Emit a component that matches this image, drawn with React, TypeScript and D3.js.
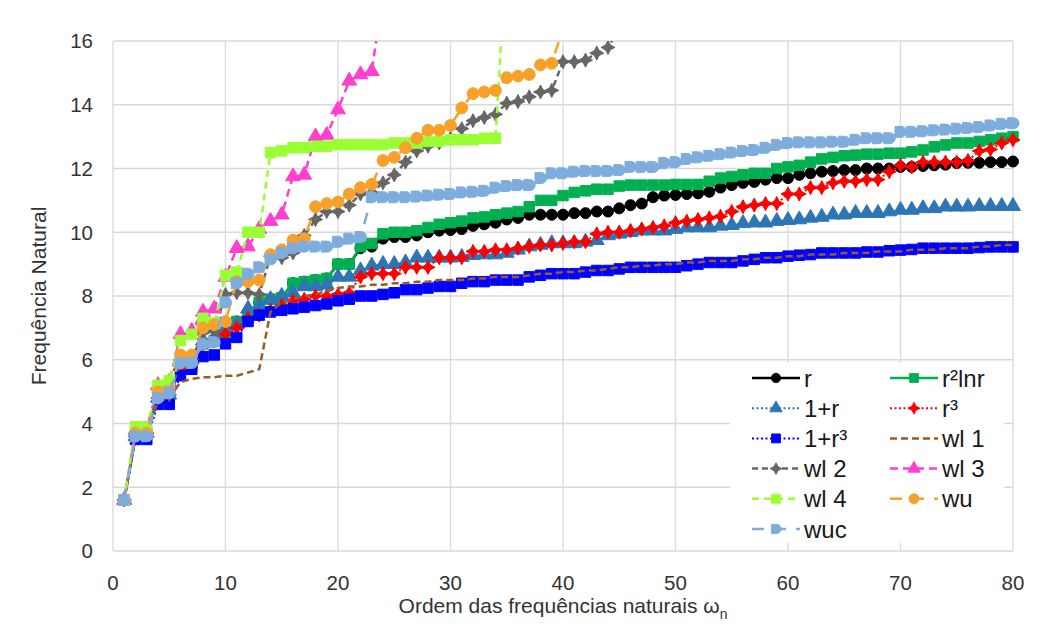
import React from "react";
import * as d3 from "d3";

// x = ordem da frequência natural (1..80)
const ordem = [
  1, 2, 3, 4, 5, 6, 7, 8, 9, 10, 11, 12, 13, 14, 15, 16, 17, 18, 19, 20,
  21, 22, 23, 24, 25, 26, 27, 28, 29, 30, 31, 32, 33, 34, 35, 36, 37, 38, 39, 40,
  41, 42, 43, 44, 45, 46, 47, 48, 49, 50, 51, 52, 53, 54, 55, 56, 57, 58, 59, 60,
  61, 62, 63, 64, 65, 66, 67, 68, 69, 70, 71, 72, 73, 74, 75, 76, 77, 78, 79, 80,
];

const rVals = [
  1.6, 3.6, 3.7, 4.8, 4.9, 5.7, 5.8, 6.5, 6.6, 6.7, 7.2, 7.3, 7.8, 7.9, 7.95, 8.4, 8.45, 8.5, 8.55, 9.0,
  9.0, 9.5, 9.55, 9.8, 9.85, 9.85, 9.9, 10.0, 10.05, 10.07, 10.1, 10.2, 10.25, 10.3, 10.4, 10.45, 10.55, 10.55, 10.55, 10.55,
  10.6, 10.6, 10.65, 10.65, 10.75, 10.85, 10.9, 11.1, 11.15, 11.17, 11.2, 11.22, 11.27, 11.4, 11.48, 11.55, 11.58, 11.65, 11.7, 11.7,
  11.8, 11.85, 11.9, 11.92, 11.95, 11.95, 12.0, 12.0, 12.0, 12.05, 12.05, 12.08, 12.1, 12.12, 12.17, 12.18, 12.18, 12.2, 12.2, 12.22,
];
const r2lnrVals = [
  1.6, 3.6, 3.7, 4.8, 4.9, 5.7, 5.8, 6.5, 6.6, 6.7, 7.2, 7.3, 7.8, 7.9, 7.95, 8.4, 8.45, 8.5, 8.55, 9.0,
  9.0, 9.55, 9.65, 9.95, 10.0, 10.0, 10.05, 10.15, 10.25, 10.3, 10.35, 10.45, 10.48, 10.55, 10.6, 10.65, 10.8, 11.0, 11.0, 11.15,
  11.25, 11.3, 11.35, 11.35, 11.45, 11.48, 11.48, 11.48, 11.48, 11.5, 11.5, 11.5, 11.6, 11.7, 11.75, 11.8, 11.85, 11.85, 12.0, 12.05,
  12.1, 12.2, 12.3, 12.35, 12.4, 12.42, 12.45, 12.45, 12.48, 12.48, 12.52, 12.58, 12.68, 12.74, 12.8, 12.8, 12.85, 12.9, 12.95, 13.0,
];
const onePlusRVals = [
  1.6, 3.6, 3.7, 4.8, 4.9, 5.8, 6.0, 6.6, 6.7, 7.0, 7.1, 7.6, 7.7, 7.9, 8.0, 8.1, 8.3, 8.3, 8.35, 8.6,
  8.6, 8.8, 8.95, 9.0, 9.0, 9.05, 9.2, 9.2, 9.2, 9.2, 9.22, 9.28, 9.3, 9.3, 9.35, 9.45, 9.55, 9.6, 9.65, 9.65,
  9.65, 9.7, 9.75, 9.9, 9.95, 10.0, 10.05, 10.05, 10.05, 10.1, 10.15, 10.15, 10.15, 10.2, 10.22, 10.28, 10.3, 10.3, 10.35, 10.38,
  10.4, 10.45, 10.48, 10.55, 10.55, 10.6, 10.6, 10.6, 10.65, 10.7, 10.7, 10.75, 10.75, 10.8, 10.8, 10.8, 10.82, 10.82, 10.82, 10.82,
];
const r3Vals = [
  1.6, 3.6, 3.7, 4.8, 4.9, 5.7, 5.9, 6.5, 6.6, 6.8, 7.0, 7.3, 7.4, 7.55, 7.7, 7.85, 7.9, 8.0, 8.0, 8.05,
  8.1, 8.6, 8.7, 8.7, 8.7, 8.9, 8.9, 8.9, 9.2, 9.2, 9.2, 9.4, 9.4, 9.45, 9.45, 9.5, 9.55, 9.6, 9.6, 9.65,
  9.7, 9.7, 9.95, 10.0, 10.0, 10.05, 10.1, 10.15, 10.2, 10.3, 10.35, 10.4, 10.45, 10.5, 10.65, 10.8, 10.85, 10.9, 10.9, 11.2,
  11.2, 11.4, 11.4, 11.55, 11.6, 11.6, 11.65, 11.65, 11.9, 12.1, 12.05, 12.2, 12.2, 12.2, 12.2, 12.25, 12.55, 12.6, 12.8, 12.9,
];
const onePlusR3Vals = [
  1.6, 3.5, 3.5, 4.6, 4.6, 5.5, 5.7, 6.1, 6.15, 6.5, 6.7, 7.2, 7.4, 7.5, 7.55, 7.6, 7.65, 7.7, 7.75, 7.85,
  7.9, 8.0, 8.0, 8.05, 8.1, 8.2, 8.2, 8.25, 8.3, 8.3, 8.4, 8.45, 8.45, 8.5, 8.5, 8.5, 8.6, 8.65, 8.7, 8.7,
  8.7, 8.75, 8.8, 8.8, 8.85, 8.9, 8.9, 8.9, 8.9, 8.9, 8.95, 9.0, 9.05, 9.05, 9.05, 9.1, 9.15, 9.2, 9.2, 9.25,
  9.28, 9.3, 9.35, 9.35, 9.35, 9.35, 9.38, 9.38, 9.42, 9.44, 9.46, 9.5, 9.5, 9.5, 9.5, 9.5, 9.52, 9.54, 9.54, 9.54,
];
const wl1Vals = [
  1.6, 3.6, 3.7, 4.7, 4.8, 5.3, 5.4, 5.45, 5.45, 5.5, 5.5, 5.6, 5.7, 7.5, 7.8, 7.9, 8.0, 8.05, 8.15, 8.25,
  8.3, 8.3, 8.35, 8.35, 8.4, 8.4, 8.45, 8.45, 8.5, 8.5, 8.5, 8.55, 8.55, 8.6, 8.6, 8.6, 8.65, 8.7, 8.7, 8.75,
  8.75, 8.8, 8.8, 8.85, 8.9, 8.9, 8.95, 8.95, 9.0, 9.0, 9.05, 9.05, 9.1, 9.1, 9.1, 9.15, 9.15, 9.2, 9.2, 9.25,
  9.25, 9.3, 9.3, 9.3, 9.35, 9.35, 9.35, 9.4, 9.4, 9.4, 9.45, 9.45, 9.45, 9.5, 9.5, 9.5, 9.55, 9.55, 9.6, 9.6,
];
const wl2Vals = [
  1.6, 3.6, 3.7, 4.8, 4.9, 5.9, 6.0, 6.85, 6.9, 8.05, 8.1, 8.1, 8.05, 9.25, 9.2, 9.35, 9.9, 10.4, 10.65, 10.65,
  10.85, 11.2, 11.25, 11.55, 11.8, 12.2, 12.55, 12.7, 12.8, 12.95, 13.25, 13.5, 13.6, 13.7, 14.05, 14.1, 14.25, 14.4, 14.45, 15.35,
  15.35, 15.4, 15.62, 15.8, 16.4,
];
const wl3Vals = [
  1.6, 3.8, 3.8, 5.2, 5.3, 6.8, 6.9, 7.5, 7.6, 8.6, 9.5, 9.55, 10.1, 10.35, 10.55, 11.75, 11.8, 13.0, 13.05, 13.85,
  14.75, 14.95, 15.05, 17.5,
];
const wl4Vals = [
  1.6, 3.9, 3.9, 5.2, 5.35, 6.6, 6.8, 7.3, 7.15, 8.65, 8.75, 10.0, 10.0, 12.5, 12.55, 12.65, 12.65, 12.7, 12.7, 12.75,
  12.75, 12.75, 12.75, 12.75, 12.8, 12.8, 12.8, 12.85, 12.85, 12.9, 12.9, 12.9, 12.95, 12.95, 19.0,
];
const wuVals = [
  1.6, 3.7, 3.7, 5.0, 5.0, 6.15, 6.15, 7.0, 7.1, 7.2, 8.45, 8.45, 8.5, 9.3, 9.45, 9.75, 9.8, 10.8, 10.9, 10.95,
  11.2, 11.4, 11.5, 12.25, 12.35, 12.65, 12.95, 13.2, 13.2, 13.35, 13.9, 14.35, 14.4, 14.45, 14.85, 14.9, 14.95, 15.25, 15.3, 16.4,
];
const wucVals = [
  1.6, 3.6, 3.6, 4.8, 4.95, 5.9, 5.9, 6.5, 6.55, 7.8, 8.4, 8.7, 8.9, 9.15, 9.35, 9.5, 9.55, 9.55, 9.55, 9.7,
  9.8, 9.85, 11.1, 11.1, 11.1, 11.1, 11.12, 11.15, 11.18, 11.2, 11.25, 11.27, 11.3, 11.4, 11.45, 11.48, 11.48, 11.7, 11.85, 11.85,
  11.9, 11.92, 11.92, 11.92, 11.95, 12.05, 12.05, 12.05, 12.17, 12.2, 12.3, 12.35, 12.4, 12.45, 12.5, 12.55, 12.58, 12.65, 12.74, 12.8,
  12.82, 12.82, 12.82, 12.84, 12.84, 12.9, 12.95, 12.95, 12.95, 13.15, 13.15, 13.17, 13.2, 13.22, 13.25, 13.27, 13.3, 13.35, 13.4, 13.42,
];

const yTicks = [0, 2, 4, 6, 8, 10, 12, 14, 16];
const xTicks = [0, 10, 20, 30, 40, 50, 60, 70, 80];

type Serie = {
  name: string;
  values: number[];
  color: string;
  dash: string | null;
  width: number;
  marker: string;
};

const series: Serie[] = [
  { name: "r", values: rVals, color: "#000000", dash: null, width: 2.5, marker: "circle" },
  { name: "r²lnr", values: r2lnrVals, color: "#00B050", dash: null, width: 2.5, marker: "square" },
  { name: "1+r", values: onePlusRVals, color: "#2E75B6", dash: "2,2.5", width: 2, marker: "triangle" },
  { name: "r³", values: r3Vals, color: "#FF0000", dash: "2,2.5", width: 2, marker: "star" },
  { name: "1+r³", values: onePlusR3Vals, color: "#0000FF", dash: "2,2.5", width: 2, marker: "square" },
  { name: "wl 1", values: wl1Vals, color: "#9C5B26", dash: "7,4", width: 2.5, marker: "none" },
  { name: "wl 2", values: wl2Vals, color: "#666666", dash: "6,4", width: 2.5, marker: "star" },
  { name: "wl 3", values: wl3Vals, color: "#FF3FCF", dash: "8,5", width: 2.5, marker: "triangle" },
  { name: "wl 4", values: wl4Vals, color: "#99FF33", dash: "7,5", width: 2.5, marker: "square" },
  { name: "wu", values: wuVals, color: "#F7A12B", dash: "12,10", width: 2.5, marker: "bigcircle" },
  { name: "wuc", values: wucVals, color: "#7EADDD", dash: "12,10", width: 2.5, marker: "dshape" },
];

function markerPath(type: string): string {
  switch (type) {
    case "circle":
      return d3.symbol(d3.symbolCircle, 95)()!;
    case "bigcircle":
      return d3.symbol(d3.symbolCircle, 110)()!;
    case "square":
      return d3.symbol(d3.symbolSquare, 110)()!;
    case "triangle":
      return d3.symbol(d3.symbolTriangle, 95)()!;
    case "star":
      return "M0,-7L2.4,-2.4L7,0L2.4,2.4L0,7L-2.4,2.4L-7,0L-2.4,-2.4Z";
    case "dshape":
      return "M-5.5,-5.5H0.5A5.5,5.5 0 0 1 0.5,5.5H-5.5Z";
    default:
      return "";
  }
}

export default function App() {
  const ref = React.useRef<SVGSVGElement>(null);

  React.useEffect(() => {
    const width = 1043;
    const height = 633;
    const marginTop = 41;
    const marginRight = 30;
    const marginBottom = 82;
    const marginLeft = 113;
    const font = "'Liberation Sans', Arial, sans-serif";

    const x = d3.scaleLinear().domain([0, 80]).range([marginLeft, width - marginRight]);
    const y = d3.scaleLinear().domain([0, 16]).range([height - marginBottom, marginTop]);

    const svg = d3.select(ref.current!)
      .attr("width", width)
      .attr("height", height)
      .attr("viewBox", [0, 0, width, height])
      .style("font-family", font);
    svg.selectAll("*").remove();

    svg.append("rect").attr("width", width).attr("height", height).attr("fill", "#ffffff");

    // grid
    const grid = svg.append("g").attr("stroke", "#D9D9D9").attr("stroke-width", 1.3);
    grid.selectAll("line.h").data(yTicks).join("line")
      .attr("x1", x(0)).attr("x2", x(80))
      .attr("y1", (d) => y(d)).attr("y2", (d) => y(d));
    grid.selectAll("line.v").data(xTicks).join("line")
      .attr("y1", y(0)).attr("y2", y(16))
      .attr("x1", (d) => x(d)).attr("x2", (d) => x(d));

    // tick labels
    svg.append("g").selectAll("text").data(yTicks).join("text")
      .attr("x", x(0) - 20).attr("y", (d) => y(d))
      .attr("dy", "0.36em").attr("text-anchor", "end")
      .attr("font-size", 20.5).attr("fill", "#333333")
      .text((d) => d);
    svg.append("g").selectAll("text").data(xTicks).join("text")
      .attr("x", (d) => x(d)).attr("y", y(0) + 32)
      .attr("dy", "0.36em").attr("text-anchor", "middle")
      .attr("font-size", 20.5).attr("fill", "#333333")
      .text((d) => d);

    // axis titles
    svg.append("text")
      .attr("transform", `translate(46,${(y(0) + y(16)) / 2}) rotate(-90)`)
      .attr("text-anchor", "middle").attr("font-size", 21).attr("fill", "#333333")
      .text("Frequência Natural");
    const xt = svg.append("text")
      .attr("x", (x(0) + x(80)) / 2).attr("y", 613)
      .attr("text-anchor", "middle").attr("font-size", 21).attr("fill", "#333333");
    xt.append("tspan").text("Ordem das frequências naturais ω");
    xt.append("tspan").attr("font-size", 14).attr("dy", 6).text("n");

    // series, clipped at the top of the plot area
    svg.append("clipPath").attr("id", "plotclip")
      .append("rect").attr("x", 90).attr("y", marginTop).attr("width", 950).attr("height", 540);

    const plot = svg.append("g").attr("clip-path", "url(#plotclip)");
    const line = d3.line<number>().x((d, i) => x(ordem[i])).y((d) => y(d));

    for (const s of series) {
      const g = plot.append("g");
      g.append("path")
        .attr("d", line(s.values))
        .attr("fill", "none")
        .attr("stroke", s.color)
        .attr("stroke-width", s.width)
        .attr("stroke-dasharray", s.dash)
        .attr("stroke-linejoin", "round");
      if (s.marker !== "none") {
        g.selectAll("path.m").data(s.values).join("path")
          .attr("class", "m")
          .attr("d", markerPath(s.marker))
          .attr("transform", (d, i) => `translate(${x(ordem[i])},${y(d)})`)
          .attr("fill", s.color)
          .attr("stroke", s.color)
          .attr("stroke-width", 1);
      }
    }

    // legend
    const legend = svg.append("g");
    legend.append("rect")
      .attr("x", 730).attr("y", 363).attr("width", 274).attr("height", 180)
      .attr("fill", "#ffffff");
    series.forEach((s, i) => {
      const col = i % 2;
      const row = Math.floor(i / 2);
      const lx = col === 0 ? 752 : 890;
      const ly = 378 + row * 30.2;
      const item = legend.append("g").attr("transform", `translate(${lx},${ly})`);
      item.append("line")
        .attr("x1", 0).attr("x2", 48).attr("y1", 0).attr("y2", 0)
        .attr("stroke", s.color).attr("stroke-width", s.width)
        .attr("stroke-dasharray", s.dash);
      if (s.marker !== "none") {
        item.append("path").attr("d", markerPath(s.marker))
          .attr("transform", "translate(24,0) scale(0.85)")
          .attr("fill", s.color).attr("stroke", s.color);
      }
      item.append("text")
        .attr("x", 52).attr("y", 0).attr("dy", "0.36em")
        .attr("font-size", 24).attr("fill", "#1a1a1a")
        .text(s.name);
    });
  }, []);

  return <svg ref={ref} style={{ position: "absolute", left: 0, top: 0 }}></svg>;
}
